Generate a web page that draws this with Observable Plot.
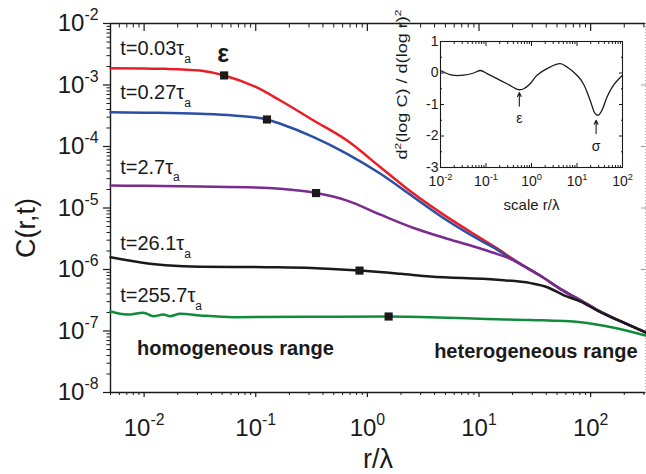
<!DOCTYPE html>
<html><head><meta charset="utf-8">
<script src="https://cdn.jsdelivr.net/npm/d3@7"></script>
<script src="https://cdn.jsdelivr.net/npm/@observablehq/plot@0.6"></script>
<style>
body{margin:0;background:#fff;}
#wrap{position:relative;width:646px;height:474px;overflow:hidden;}
#inset{position:absolute;left:390px;top:20px;}
</style></head><body><div id="wrap"><div id="main"></div><div id="inset"></div></div>
<script>
// ---------- data ----------
const seriesNames = ["t=0.03τa", "t=0.27τa", "t=2.7τa", "t=26.1τa", "t=255.7τa"];
const seriesLabels = ["t=0.03τ_a", "t=0.27τ_a", "t=2.7τ_a", "t=26.1τ_a", "t=255.7τ_a"];
const seriesColors = ["#ec1c24", "#2b4fa6", "#7b2a8d", "#1a1a1a", "#128a3c"];

const redR = [0.005, 0.01, 0.0158, 0.0316, 0.0521, 0.1, 0.166, 0.33, 0.658, 1.31, 2.6, 5.19, 10.3, 14.6, 20.5, 27.2, 35.5, 53.7, 81.3, 115, 200, 310];
const redC = [1.88e-3, 1.85e-3, 1.83e-3, 1.72e-3, 1.43e-3, 9.3e-4, 5.6e-4, 2.65e-4, 1.25e-4, 4.6e-5, 1.70e-5, 7.1e-6, 3.24e-6, 2.19e-6, 1.45e-6, 1.05e-6, 7.9e-7, 4.8e-7, 3.16e-7, 2.19e-7, 1.35e-7, 9.5e-8];

const blueR = [0.005, 0.01, 0.0316, 0.063, 0.126, 0.166, 0.33, 0.658, 1.31, 2.6, 5.19, 10.3, 14.6, 20.5, 27.2, 35.5, 53.7, 81.3, 115, 200, 310];
const blueC = [3.61e-4, 3.55e-4, 3.40e-4, 3.19e-4, 2.75e-4, 2.34e-4, 1.42e-4, 7.6e-5, 3.6e-5, 1.5e-5, 6.26e-6, 2.96e-6, 2.09e-6, 1.41e-6, 1.05e-6, 7.9e-7, 4.8e-7, 3.16e-7, 2.19e-7, 1.35e-7, 9.5e-8];

const purpleR = [0.005, 0.01, 0.0316, 0.1, 0.166, 0.347, 0.658, 1.31, 2.6, 5.19, 10.3, 14.6, 20.5, 27.2, 35.5, 53.7, 81.3, 115, 200, 310];
const purpleC = [2.32e-5, 2.29e-5, 2.24e-5, 2.16e-5, 2.05e-5, 1.75e-5, 1.32e-5, 7.8e-6, 4.73e-6, 3.16e-6, 2.19e-6, 1.78e-6, 1.41e-6, 1.05e-6, 7.9e-7, 4.8e-7, 3.16e-7, 2.19e-7, 1.35e-7, 9.5e-8];

const blackR = [0.005, 0.0113, 0.0225, 0.0316, 0.126, 0.316, 0.85, 1.98, 3.67, 14.6, 29, 40.9, 57.7, 81.3, 115, 200, 310];
const blackC = [1.58e-6, 1.24e-6, 1.13e-6, 1.11e-6, 1.09e-6, 1.06e-6, 9.6e-7, 8.5e-7, 7.7e-7, 6.8e-7, 6.0e-7, 5.15e-7, 3.8e-7, 3.0e-7, 2.15e-7, 1.35e-7, 9.5e-8];

const greenR = [0.005, 0.007, 0.00986, 0.0121, 0.0149, 0.0171, 0.021, 0.0318, 0.063, 0.316, 1.55, 10, 29, 81.3, 162, 310];
const greenC = [2.07e-7, 1.85e-7, 1.98e-7, 1.74e-7, 1.85e-7, 1.74e-7, 1.9e-7, 1.79e-7, 1.68e-7, 1.70e-7, 1.72e-7, 1.58e-7, 1.51e-7, 1.39e-7, 1.13e-7, 8.45e-8];

const markerR = [0.0521, 0.126, 0.347, 0.85, 1.55];
const markerC = [1.43e-3, 2.75e-4, 1.75e-5, 9.6e-7, 1.72e-7];

const xTickValues = [0.01, 0.1, 1, 10, 100];
const yTickValues = [1e-8, 1e-7, 1e-6, 1e-5, 1e-4, 1e-3, 1e-2];

// inset
const insetR = [0.01, 0.0182, 0.0324, 0.0537, 0.0759, 0.105, 0.174, 0.288, 0.525, 0.676, 0.933, 1.32, 2.19, 4.27, 6.03, 10, 13.8, 19.5, 25.1, 29.5, 35.5, 45.7, 63.1, 100];
const insetV = [0.08, -0.07, -0.07, 0, 0.08, -0.02, -0.18, -0.34, -0.53, -0.5, -0.34, -0.07, 0.14, 0.3, 0.19, -0.07, -0.34, -0.87, -1.29, -1.34, -1.18, -0.76, -0.39, -0.07];
const insetXTicks = [0.01, 0.1, 1, 10, 100];
const insetYTicks = [-3, -2, -1, 0, 1];
const insetMarks = ["ε", "σ"];
const insetMarkR = [0.54, 26.3];

// annotation positions (data units)
const labelR = [0.0061, 0.0061, 0.0061, 0.0061, 0.0061];
const labelC = [3.84e-3, 7.4e-4, 4.6e-5, 2.59e-6, 3.73e-7];

// ---------- build ----------
const FONT = "'Liberation Sans', Arial, sans-serif";
const seriesR = [redR, blueR, purpleR, blackR, greenR];
const seriesC = [redC, blueC, purpleC, blackC, greenC];
const rows = seriesNames.flatMap((s, i) => seriesR[i].map((r, j) => ({series: s, r, C: seriesC[i][j]})));
const markers = markerR.map((r, i) => ({r, C: markerC[i]}));
const xDomain = [0.005, 310], yDomain = [1e-8, 1e-2];
const minorOf = (decs, lo, hi) => decs.flatMap(d => [2,3,4,5,6,7,8,9].map(m => m * d)).filter(v => v >= lo && v <= hi);
const xMinor = minorOf([0.001, 0.01, 0.1, 1, 10, 100], xDomain[0], xDomain[1]);
const yMinor = minorOf([1e-8, 1e-7, 1e-6, 1e-5, 1e-4, 1e-3], yDomain[0], yDomain[1]);
const pow = d => "10^" + Math.round(Math.log10(d));
const blank = () => "";
const K = "#1a1a1a";

const main = Plot.plot({
  width: 646, height: 474,
  marginLeft: 110, marginRight: 1, marginTop: 23, marginBottom: 82,
  style: {fontFamily: FONT, background: "transparent", overflow: "visible", color: K},
  x: {type: "log", domain: xDomain, label: null},
  y: {type: "log", domain: yDomain, label: null},
  color: {domain: seriesNames, range: seriesColors},
  marks: [
    Plot.axisY({ticks: yTickValues, tickSize: 7, tickPadding: 5, fontSize: 24, tickFormat: pow, strokeWidth: 1.2}),
    Plot.axisY({ticks: yMinor, tickSize: 3.5, tickFormat: blank}),
    Plot.axisX({ticks: xTickValues, tickSize: 5, tickPadding: 21, fontSize: 24, tickFormat: pow, strokeWidth: 1.2}),
    Plot.axisX({ticks: xMinor, tickSize: 3, tickFormat: blank}),
    Plot.axisX({anchor: "top", ticks: xTickValues, tickSize: 7, dy: 7, tickFormat: blank, strokeWidth: 1.2}),
    Plot.axisX({anchor: "top", ticks: xMinor, tickSize: 3.5, dy: 3.5, tickFormat: blank}),
    Plot.axisY({anchor: "right", ticks: yTickValues, tickSize: 5, dx: -5, stroke: "#999", tickFormat: blank}),
    Plot.ruleX([xDomain[0]], {stroke: K, strokeWidth: 1.4}),
    Plot.ruleX([xDomain[1]], {stroke: "#aaa", strokeWidth: 1, strokeDasharray: "1,2"}),
    Plot.ruleY([yDomain[0]], {stroke: K, strokeWidth: 1.4}),
    Plot.ruleY([yDomain[1]], {stroke: K, strokeWidth: 1.4}),
    Plot.line(rows, {x: "r", y: "C", z: "series", stroke: "series", strokeWidth: 2.5, curve: "monotone-x"}),
    Plot.dot(markers, {x: "r", y: "C", symbol: "square", fill: K, r: 4.6}),
    Plot.text(seriesLabels, {x: labelR, y: labelC, text: d => d, textAnchor: "start", fontSize: 20, fill: K}),
    Plot.text(["ε"], {x: [0.051], y: [3.25e-3], text: d => d, fontSize: 25, fontWeight: "bold", fill: K}),
    Plot.text(["homogeneous range"], {x: [0.00865], y: [5.08e-8], text: d => d, textAnchor: "start", fontSize: 20, fontWeight: "bold", fill: K}),
    Plot.text(["heterogeneous range"], {x: [263], y: [4.71e-8], text: d => d, textAnchor: "end", fontSize: 20, fontWeight: "bold", fill: K}),
    Plot.text(["r/λ"], {frameAnchor: "bottom", textAnchor: "middle", lineAnchor: "middle", dy: 67, text: d => d, fontSize: 27, fill: K}),
    Plot.text(["C(r,t)"], {frameAnchor: "left", textAnchor: "middle", lineAnchor: "middle", dx: -84, dy: 20, rotate: -90, text: d => d, fontSize: 27, fill: K})
  ]
});
document.getElementById("main").appendChild(main);

const insetRows = insetR.map((r, i) => ({r, v: insetV[i]}));
const inMinorX = minorOf([0.01, 0.1, 1, 10], 0.01, 100);
const inMinorY = [-2.5, -1.5, -0.5, 0.5];
const inset = Plot.plot({
  width: 240, height: 200,
  marginLeft: 50, marginRight: 8, marginTop: 21, marginBottom: 53,
  style: {fontFamily: FONT, background: "transparent", overflow: "visible", color: K},
  x: {type: "log", domain: [0.01, 100], label: null},
  y: {domain: [-3, 1], label: null},
  marks: [
    Plot.frame({stroke: K, strokeWidth: 1.1}),
    Plot.axisY({ticks: insetYTicks, tickSize: 0, tickPadding: 2, fontSize: 14, tickFormat: d => String(d)}),
    Plot.axisY({ticks: insetYTicks, tickSize: 4, dx: 4, tickFormat: blank}),
    Plot.axisY({ticks: inMinorY, tickSize: 2, dx: 2, tickFormat: blank}),
    Plot.axisY({anchor: "right", ticks: insetYTicks, tickSize: 4, dx: -4, tickFormat: blank}),
    Plot.axisY({anchor: "right", ticks: inMinorY, tickSize: 2, dx: -2, tickFormat: blank}),
    Plot.axisX({ticks: insetXTicks, tickSize: 0, tickPadding: 9, fontSize: 14, tickFormat: pow}),
    Plot.axisX({ticks: insetXTicks, tickSize: 4, dy: -4, tickFormat: blank}),
    Plot.axisX({ticks: inMinorX, tickSize: 2, dy: -2, tickFormat: blank}),
    Plot.axisX({anchor: "top", ticks: insetXTicks, tickSize: 4, dy: 4, tickFormat: blank}),
    Plot.axisX({anchor: "top", ticks: inMinorX, tickSize: 2, dy: 2, tickFormat: blank}),
    Plot.line(insetRows, {x: "r", y: "v", stroke: K, strokeWidth: 1.3, curve: "catmull-rom"}),
    Plot.arrow(insetMarkR, {x1: d => d, x2: d => d, y1: [-1.05, -1.92], y2: [-0.62, -1.5], stroke: K, strokeWidth: 1.1, headLength: 6, headAngle: 50}),
    Plot.text(insetMarks, {x: insetMarkR, y: [-1.45, -2.32], text: d => d, fontSize: 14, fill: K}),
    Plot.text(["d^2(log C) / d(log r)^2"], {frameAnchor: "left", textAnchor: "middle", lineAnchor: "middle", dx: -38, dy: -20, rotate: -90, text: d => d, fontSize: 15, fill: K}),
    Plot.text(["scale r/λ"], {frameAnchor: "bottom", textAnchor: "middle", lineAnchor: "middle", dy: 38, text: d => d, fontSize: 15, fill: K})
  ]
});
document.getElementById("inset").appendChild(inset);

// ---------- superscripts / subscripts ----------
const NS = "http://www.w3.org/2000/svg";
function richify(svg) {
  svg.querySelectorAll("text").forEach(t => {
    const targets = t.querySelector("tspan") ? [...t.querySelectorAll("tspan")] : [t];
    targets.forEach(el => {
      const s = el.textContent;
      if (!/[\^_]/.test(s)) return;
      const fs = parseFloat(getComputedStyle(el).fontSize) || 12;
      el.textContent = "";
      let shift = 0;
      for (const p of s.split(/(\^-?\d+|_[a-z])/)) {
        if (!p) continue;
        const sp = document.createElementNS(NS, "tspan");
        if (p[0] === "^" || p[0] === "_") {
          const target = p[0] === "^" ? -0.45 * fs : 0.38 * fs;
          sp.setAttribute("dy", target - shift); shift = target;
          sp.setAttribute("font-size", (p[0] === "^" ? 0.66 : 0.6) * fs);
          sp.textContent = p.slice(1);
        } else {
          sp.setAttribute("dy", -shift); shift = 0;
          sp.textContent = p;
        }
        el.appendChild(sp);
      }
    });
  });
}
richify(main);
richify(inset);
// the inset's rotated label is drawn vertically stretched in the original
inset.querySelectorAll("text").forEach(t => {
  if (t.textContent.includes("(log C)")) {
    t.setAttribute("textLength", 150);
    t.setAttribute("lengthAdjust", "spacingAndGlyphs");
  }
});
</script></body></html>
